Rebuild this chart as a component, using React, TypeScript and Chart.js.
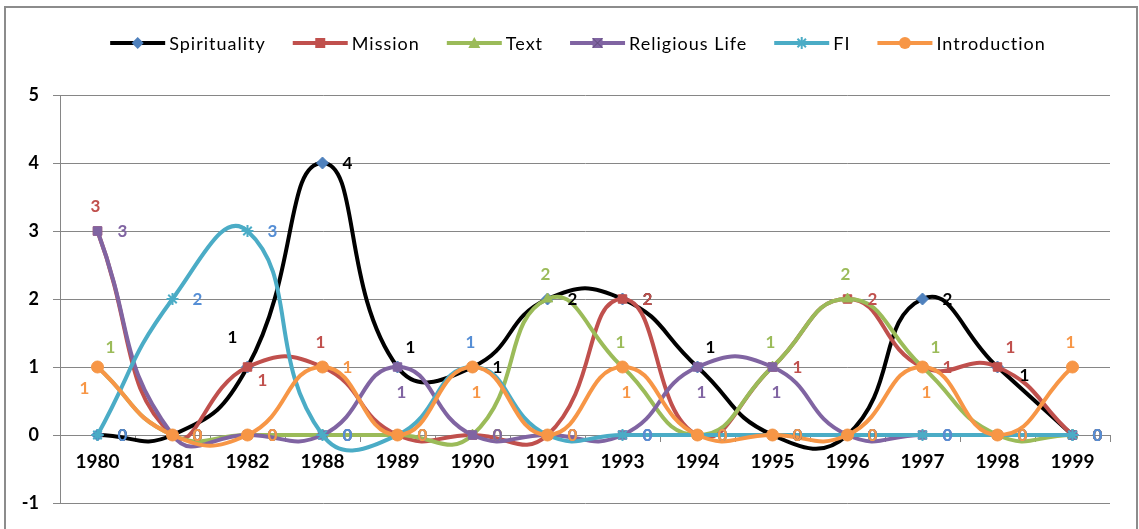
import { useEffect, useRef } from 'react';
import { Chart, registerables } from 'chart.js';

Chart.register(...registerables);

const YEARS = ['1980', '1981', '1982', '1988', '1989', '1990', '1991', '1993', '1994', '1995', '1996', '1997', '1998', '1999'];
const SPIRITUALITY = [0, 0, 1, 4, 1, 1, 2, 2, 1, 0, 0, 2, 1, 0];
const MISSION = [3, 0, 1, 1, 0, 0, 0, 2, 0, 1, 2, 1, 1, 0];
const TEXT = [1, 0, 0, 0, 0, 0, 2, 1, 0, 1, 2, 1, 0, 0];
const RELIGIOUS_LIFE = [3, 0, 0, 0, 1, 0, 0, 0, 1, 1, 0, 0, 0, 0];
const FI = [0, 2, 3, 0, 0, 1, 0, 0, 0, 0, 0, 0, 0, 0];
const INTRODUCTION = [1, 0, 0, 1, 0, 1, 0, 1, 0, 0, 0, 1, 0, 1];
const Y_MIN = -1;
const Y_MAX = 5;

// data-label placement codes (like Excel per-label position settings)
const SPIRITUALITY_LBL = ['R', 'R', 'TL', 'R', 'TR', 'R', 'R', 'R', 'TR', 'R', 'R', 'R', 'RB', 'R'];
const MISSION_LBL = ['T', 'R', 'BR', 'T', 'R', 'R', 'R', 'R', 'R', 'R', 'R', 'R', 'TR', 'R'];
const TEXT_LBL = ['TR', 'R', 'R', 'R', 'R', 'R', 'T', 'T', 'R', 'T', 'T', 'TR', 'R', 'R'];
const RELIGIOUS_LBL = ['R', 'R', 'R', 'R', 'B', 'R', 'R', 'R', 'B', 'B', 'R', 'R', 'R', 'R'];
const FI_LBL = ['R', 'R', 'R', 'R', 'R', 'T', 'R', 'R', 'R', 'R', 'R', 'R', 'R', 'R'];
const INTRO_LBL = ['BL', 'R', 'R', 'R', 'R', 'B', 'R', 'B', 'R', 'R', 'R', 'B', 'R', 'T'];

const OFFSETS: Record<string, [number, number]> = {
  R: [25, 1],
  T: [-2, -24],
  B: [4, 26],
  TR: [13, -19],
  TL: [-15, -29],
  BR: [15, 14],
  BL: [-13, 22],
  RB: [27, 9],
};

const FONT = 'Lato, "Open Sans", sans-serif';

type SeriesDef = {
  label: string;
  data: number[];
  line: string;
  marker: string;
  labelColor: string;
  style: string;
  lbl: string[];
};

const SERIES: SeriesDef[] = [
  { label: 'Spirituality', data: SPIRITUALITY, line: '#000000', marker: '#4F81BD', labelColor: '#000000', style: 'diamond', lbl: SPIRITUALITY_LBL },
  { label: 'Mission', data: MISSION, line: '#C0504D', marker: '#C0504D', labelColor: '#C0504D', style: 'square', lbl: MISSION_LBL },
  { label: 'Text', data: TEXT, line: '#9BBB59', marker: '#9BBB59', labelColor: '#9BBB59', style: 'triangle', lbl: TEXT_LBL },
  { label: 'Religious Life', data: RELIGIOUS_LIFE, line: '#8064A2', marker: '#8064A2', labelColor: '#8064A2', style: 'xsquare', lbl: RELIGIOUS_LBL },
  { label: 'FI', data: FI, line: '#4BACC6', marker: '#4BACC6', labelColor: '#558ED5', style: 'star', lbl: FI_LBL },
  { label: 'Introduction', data: INTRODUCTION, line: '#F79646', marker: '#F79646', labelColor: '#F79646', style: 'circle', lbl: INTRO_LBL },
];

function drawMarker(ctx: CanvasRenderingContext2D, style: string, x: number, y: number, color: string) {
  ctx.save();
  ctx.fillStyle = color;
  ctx.strokeStyle = color;
  ctx.lineWidth = 2;
  ctx.beginPath();
  if (style === 'diamond') {
    ctx.moveTo(x, y - 6); ctx.lineTo(x + 6, y); ctx.lineTo(x, y + 6); ctx.lineTo(x - 6, y); ctx.closePath(); ctx.fill();
  } else if (style === 'square') {
    ctx.rect(x - 5, y - 5, 10, 10); ctx.fill();
  } else if (style === 'triangle') {
    ctx.moveTo(x, y - 6); ctx.lineTo(x + 6, y + 5); ctx.lineTo(x - 6, y + 5); ctx.closePath(); ctx.fill();
  } else if (style === 'xsquare') {
    ctx.rect(x - 5, y - 5, 10, 10); ctx.fill();
    ctx.strokeStyle = '#5f4a7a'; ctx.lineWidth = 1;
    ctx.beginPath(); ctx.moveTo(x - 5, y - 5); ctx.lineTo(x + 5, y + 5); ctx.moveTo(x + 5, y - 5); ctx.lineTo(x - 5, y + 5); ctx.stroke();
  } else if (style === 'star') {
    for (let i = 0; i < 4; i++) {
      const a = (i * Math.PI) / 4;
      ctx.moveTo(x - 6 * Math.cos(a), y - 6 * Math.sin(a));
      ctx.lineTo(x + 6 * Math.cos(a), y + 6 * Math.sin(a));
    }
    ctx.stroke();
  } else {
    ctx.arc(x, y, 6, 0, Math.PI * 2); ctx.fill();
  }
  ctx.restore();
}

const framePlugin = {
  id: 'frame',
  beforeDraw(chart: any) {
    const ctx = chart.ctx as CanvasRenderingContext2D;
    ctx.save();
    ctx.fillStyle = '#ffffff';
    ctx.fillRect(0, 0, chart.width, chart.height);
    ctx.strokeStyle = '#8c8c8c';
    ctx.lineWidth = 2;
    ctx.strokeRect(5, 7, chart.width - 7, chart.height + 20);
    ctx.restore();
  },
};

const legendPlugin = {
  id: 'customLegend',
  afterDraw(chart: any) {
    const ctx = chart.ctx as CanvasRenderingContext2D;
    ctx.save();
    ctx.font = `18px ${FONT}`;
    (ctx as any).letterSpacing = '1px';
    const lineLen = 55;
    const gapText = 4;
    const gapItem = 27;
    const widths = SERIES.map((s) => lineLen + gapText + ctx.measureText(s.label).width);
    const total = widths.reduce((a, b) => a + b, 0) + gapItem * (SERIES.length - 1);
    let x = 578 - total / 2;
    const y = 43;
    SERIES.forEach((s, i) => {
      ctx.strokeStyle = s.line;
      ctx.lineWidth = 4;
      ctx.beginPath();
      ctx.moveTo(x, y);
      ctx.lineTo(x + lineLen, y);
      ctx.stroke();
      drawMarker(ctx, s.style, x + lineLen / 2, y, s.marker);
      ctx.fillStyle = '#000000';
      ctx.textAlign = 'left';
      ctx.textBaseline = 'middle';
      ctx.fillText(s.label, x + lineLen + gapText, y + 1);
      x += widths[i] + gapItem;
    });
    ctx.restore();
  },
};

const dataLabelPlugin = {
  id: 'dataLabels',
  afterDatasetsDraw(chart: any) {
    const ctx = chart.ctx as CanvasRenderingContext2D;
    ctx.save();
    ctx.font = `bold 17px ${FONT}`;
    ctx.textAlign = 'center';
    ctx.textBaseline = 'middle';
    SERIES.forEach((s, di) => {
      const meta = chart.getDatasetMeta(di);
      meta.data.forEach((pt: any, i: number) => {
        const off = OFFSETS[s.lbl[i]] || OFFSETS.R;
        ctx.fillStyle = s.labelColor;
        ctx.fillText(String(s.data[i]), pt.x + off[0], pt.y + off[1]);
      });
    });
    ctx.restore();
  },
};

const POINT_STYLE: Record<string, any> = {
  diamond: 'rectRot',
  square: 'rect',
  triangle: 'triangle',
  xsquare: 'rect',
  star: 'star',
  circle: 'circle',
};

export default function App() {
  const ref = useRef<HTMLCanvasElement | null>(null);

  useEffect(() => {
    if (!ref.current) return;
    const chart = new Chart(ref.current, {
      type: 'line',
      data: {
        labels: YEARS,
        datasets: SERIES.map((s, i) => ({
          label: s.label,
          data: s.data,
          borderColor: s.line,
          backgroundColor: s.marker,
          borderWidth: 4,
          tension: 0.5,
          pointStyle: POINT_STYLE[s.style],
          pointRadius: 6,
          pointBackgroundColor: s.marker,
          pointBorderColor: s.marker,
          pointBorderWidth: s.style === 'star' ? 2 : 1,
          fill: false,
          order: SERIES.length - i,
        })),
      },
      options: {
        animation: false,
        responsive: false,
        layout: { padding: { top: 95, left: 0, right: 29, bottom: 26 } },
        plugins: {
          legend: { display: false },
          tooltip: { enabled: false },
        },
        scales: {
          x: {
            type: 'category',
            offset: true,
            position: { y: 0 } as any,
            grid: { display: true, offset: true, drawOnChartArea: false, drawTicks: true, tickLength: 6, color: '#868686' },
            border: { display: true, color: '#868686', width: 1 },
            ticks: { color: '#000000', font: { family: FONT, size: 19, weight: 'bold' }, padding: 9, maxRotation: 0, autoSkip: false },
          },
          y: {
            min: Y_MIN,
            max: Y_MAX,
            afterFit: (s: any) => { s.width = 60; },
            grid: { color: '#868686', tickLength: 7, drawTicks: true },
            border: { display: true, color: '#868686', width: 1 },
            ticks: { stepSize: 1, color: '#000000', font: { family: FONT, size: 18, weight: 'bold' }, padding: 14 },
          },
        },
      },
      plugins: [framePlugin, dataLabelPlugin, legendPlugin],
    });
    return () => chart.destroy();
  }, []);

  return (
    <div style={{ position: 'absolute', left: 0, top: 0, width: 1139, height: 529 }}>
      <canvas ref={ref} width={1139} height={529} style={{ display: 'block' }} />
    </div>
  );
}
